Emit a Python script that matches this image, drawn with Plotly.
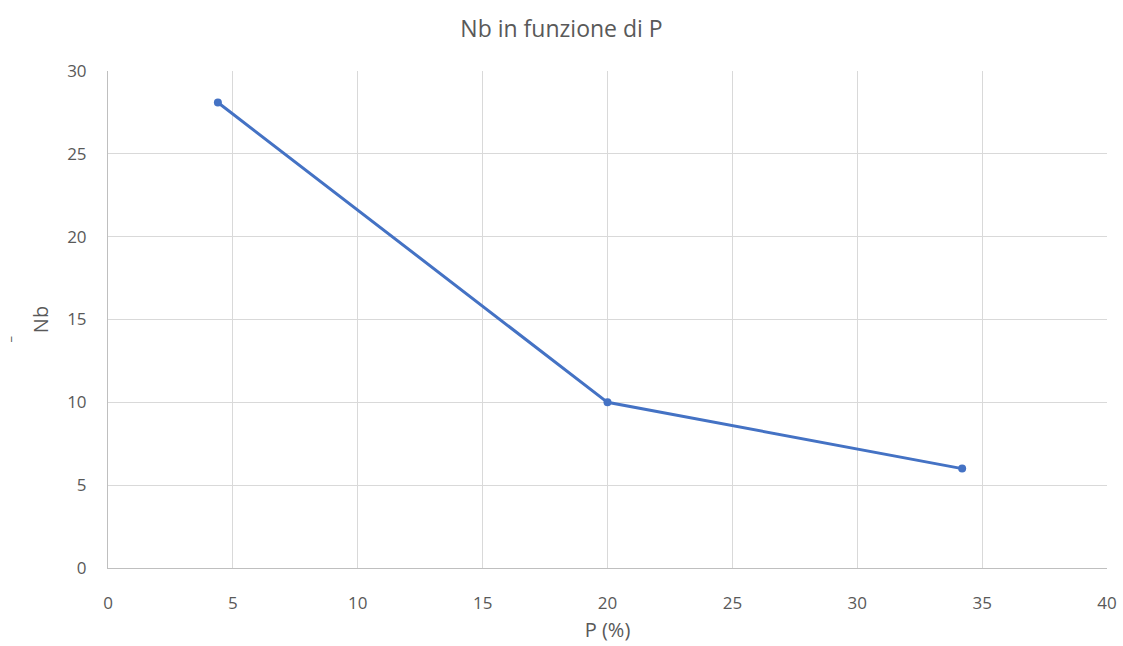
import plotly.graph_objects as go

p_values = [4.4, 20.0, 34.2]
nb_values = [28.1, 10.0, 6.0]
x_ticks = [0, 5, 10, 15, 20, 25, 30, 35, 40]
y_ticks = [0, 5, 10, 15, 20, 25, 30]

font_family = "'Open Sans', Lato, sans-serif"
grey = "#595959"

fig = go.Figure()
fig.add_trace(go.Scatter(
    x=p_values, y=nb_values, mode="lines+markers",
    line=dict(color="#4472C4", width=3),
    marker=dict(color="#4472C4", size=8),
    showlegend=False,
))

fig.update_layout(
    width=1123, height=646,
    margin=dict(l=108, r=16, t=71, b=78, autoexpand=False),
    paper_bgcolor="white", plot_bgcolor="white",
    title=dict(text="Nb in funzione di P", x=0.5, xanchor="center",
               y=0.955, yanchor="middle",
               font=dict(family=font_family, size=23, color=grey)),
    font=dict(family=font_family, color=grey, size=17),
    xaxis=dict(range=[0, 40], tickvals=x_ticks, ticktext=[str(v) for v in x_ticks],
               showgrid=True, gridcolor="#d9d9d9", gridwidth=1,
               showline=True, linecolor="#bfbfbf", linewidth=1,
               zeroline=False, ticks="outside", ticklen=20, tickcolor="rgba(0,0,0,0)",
               title=dict(text="P (%)", font=dict(size=20, color=grey), standoff=9),
               tickfont=dict(size=17, color=grey)),
    yaxis=dict(range=[0, 30], tickvals=y_ticks, ticktext=[str(v) for v in y_ticks],
               showgrid=True, gridcolor="#d9d9d9", gridwidth=1,
               showline=True, linecolor="#bfbfbf", linewidth=1,
               zeroline=False, ticks="outside", ticklen=17, tickcolor="rgba(0,0,0,0)",
               title=dict(text="Nb", font=dict(size=20, color=grey), standoff=13),
               tickfont=dict(size=17, color=grey)),
)

fig.add_annotation(text="–", xref="paper", yref="paper", x=-0.098, y=0.46,
                   xanchor="center", yanchor="middle", showarrow=False,
                   textangle=-90,
                   font=dict(family=font_family, size=13, color=grey))

fig.write_html("out.html")
